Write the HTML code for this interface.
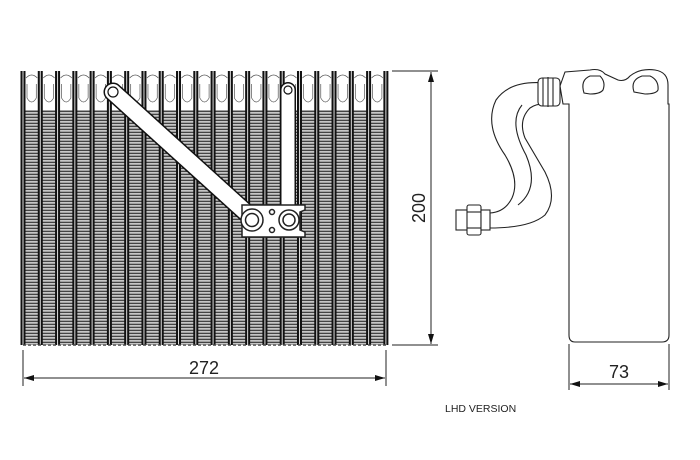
<!DOCTYPE html>
<html><head><meta charset="utf-8"><style>
html,body{margin:0;padding:0;background:#fff;width:700px;height:460px;overflow:hidden}
svg{display:block}
text{font-family:"Liberation Sans",sans-serif;fill:#222}
</style></head><body>
<svg width="700" height="460" viewBox="0 0 700 460" xmlns="http://www.w3.org/2000/svg">
<defs>
<pattern id="fin" x="0" y="110" width="6" height="3" patternUnits="userSpaceOnUse">
<rect width="6" height="3" fill="#fff"/>
<rect y="0.5" width="6" height="1.8" fill="#444"/>
</pattern>
<marker id="ar" viewBox="0 0 10 6" refX="10" refY="3" markerWidth="16" markerHeight="6" markerUnits="userSpaceOnUse" orient="auto-start-reverse">
<path d="M0,0 L10,3 L0,6 z" fill="#111"/>
</marker>
</defs>

<rect x="23" y="110" width="363" height="235" fill="url(#fin)"/>
<g fill="none" stroke="#555" stroke-width="0.7" id="hdr"></g>
<g id="tubes"></g>
<path d="M23,345 L386,345" stroke="#444" stroke-width="1.5" stroke-dasharray="3,2"/>

<!-- pipes on core -->
<g fill="none" stroke-linecap="round">
<line x1="113" y1="92" x2="252" y2="218" stroke="#111" stroke-width="19"/>
<line x1="113" y1="92" x2="252" y2="218" stroke="#fff" stroke-width="16"/>
<line x1="288" y1="90" x2="288" y2="214" stroke="#111" stroke-width="16"/>
<line x1="288" y1="90" x2="288" y2="214" stroke="#fff" stroke-width="13"/>
<circle cx="113" cy="92" r="5" stroke="#111" stroke-width="1.2"/>
<circle cx="288" cy="90" r="4" stroke="#111" stroke-width="1.2"/>
</g>
<g stroke="#222" stroke-width="1.5" fill="#fff">
<path d="M242,205 L305,205 L305,210 L300,212 L300,230 L305,232 L305,237 L242,237 L242,205 Z"/>
<circle cx="252" cy="220" r="11"/><circle cx="252" cy="220" r="6.5"/>
<circle cx="289" cy="220" r="10"/><circle cx="289" cy="220" r="6"/>
<circle cx="272" cy="212" r="2.5"/><circle cx="272" cy="230" r="2.5"/>
</g>

<g stroke="#222" stroke-width="1" fill="none">
<line x1="392" y1="71" x2="438" y2="71"/>
<line x1="392" y1="345" x2="438" y2="345"/>
<line x1="431" y1="72" x2="431" y2="344" marker-start="url(#ar)" marker-end="url(#ar)"/>
<line x1="23" y1="350" x2="23" y2="386"/>
<line x1="386" y1="350" x2="386" y2="386"/>
<line x1="24" y1="378" x2="385" y2="378" marker-start="url(#ar)" marker-end="url(#ar)"/>
</g>
<text x="204" y="374" font-size="18" text-anchor="middle" fill="#333">272</text>
<text transform="translate(425,208) rotate(-90)" font-size="18" text-anchor="middle" fill="#333">200</text>

<g stroke="#222" stroke-width="1.1" fill="#fff">
<path d="M560,86 L565,72 L590,70 Q600,68 605,74 L618,80 Q625,82 630,76 Q640,68 655,70 Q668,72 668,85 L668,104 L669,104 L669,335 Q669,342 662,342 L575,342 Q569,342 569,335 L569,104 L563,104 Z"/>
<path d="M584,93 Q580,80 590,76 L600,76 Q606,82 603,90 Q600,94 590,94 Z"/>
<path d="M634,92 Q630,80 642,76 L650,76 Q659,80 658,90 Q656,94 645,94 Z"/>
<path d="M545,83 Q510,80 496,100 Q484,125 505,155 Q520,180 512,198 Q505,212 490,213 L490,228 Q530,228 545,215 Q558,198 545,172 L525,138 Q518,120 530,108 Q537,103 548,104 Z"/>
<path d="M518,205 Q540,188 526,155 Q508,122 522,105" fill="none"/>
<rect x="538" y="78" width="22" height="28" rx="4"/>
<line x1="543" y1="78" x2="543" y2="106"/><line x1="548" y1="77" x2="548" y2="107"/><line x1="553" y1="78" x2="553" y2="106"/>
<rect x="456" y="210" width="12" height="20"/>
<rect x="467" y="205" width="14" height="30" rx="2"/>
<line x1="467" y1="212" x2="481" y2="212"/><line x1="467" y1="228" x2="481" y2="228"/>
<rect x="481" y="210" width="9" height="20"/>
</g>
<g stroke="#222" stroke-width="1" fill="none">
<line x1="569" y1="344" x2="569" y2="390"/>
<line x1="669" y1="344" x2="669" y2="390"/>
<line x1="570" y1="384" x2="668" y2="384" marker-start="url(#ar)" marker-end="url(#ar)"/>
</g>
<text x="619" y="378" font-size="18" text-anchor="middle" fill="#333">73</text>
<text x="445" y="412" font-size="10.5" fill="#222">LHD VERSION</text>
</svg>
<script>
(function(){
var ns="http://www.w3.org/2000/svg",t=document.getElementById("tubes"),h=document.getElementById("hdr");
function el(p,n,a){var e=document.createElementNS(ns,n);for(var k in a)e.setAttribute(k,a[k]);p.appendChild(e);return e;}
for(var i=0;i<22;i++){var x=23+i*17.28;
 el(t,"rect",{x:x-2.5,y:71,width:5,height:274,fill:"#111"});
 el(t,"rect",{x:x-0.5,y:71,width:1,height:274,fill:"#ddd"});
 if(i<21){var m=x+8.64;
  el(h,"path",{d:"M"+(x+3)+",78 Q"+m+",72 "+(x+14.3)+",78"});
  el(h,"path",{d:"M"+(x+4)+",84 L"+(x+4)+",98 Q"+m+",106 "+(x+13.3)+",98 L"+(x+13.3)+",84"});
 }}
})();
</script>
</body></html>
